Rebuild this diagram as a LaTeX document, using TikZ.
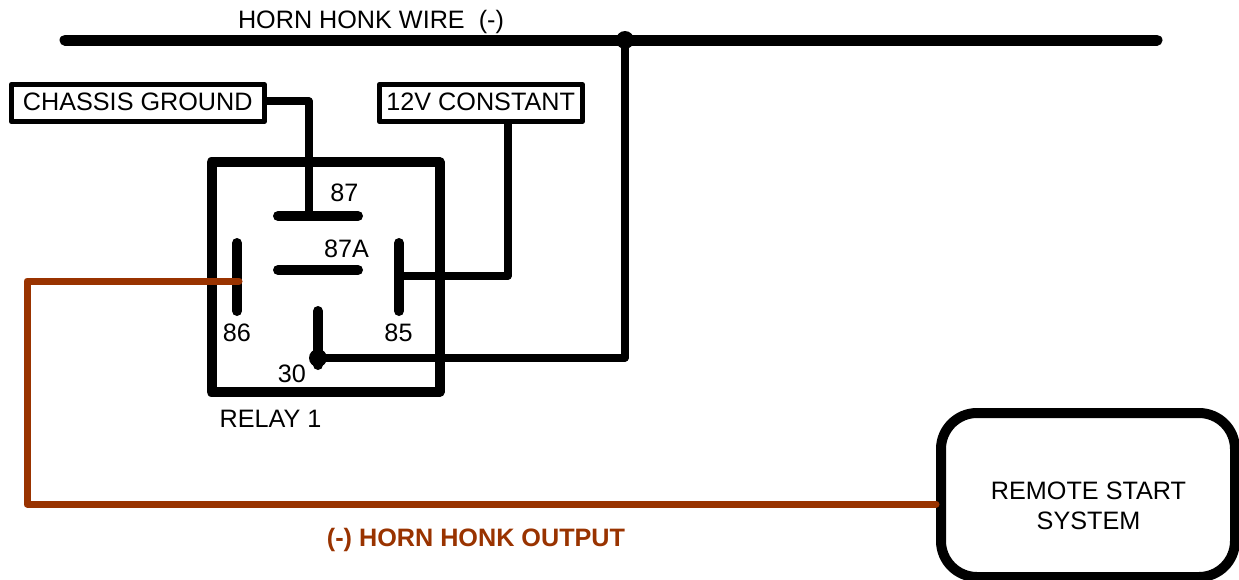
\documentclass[tikz,border=0pt]{standalone}
\usepackage{fontspec}
\setmainfont{Liberation Sans}
\definecolor{brownwire}{HTML}{993300}
\tikzset{
  px/.style={x=0.75pt,y=-0.75pt},
  lbl/.style={inner sep=0pt,font=\fontsize{18.9pt}{22pt}\selectfont,text=black},
  labelbox/.style={draw=black,line width=3.75pt,fill=white,line join=round,minimum height=27.75pt,inner sep=0pt,font=\fontsize{18.9pt}{22pt}\selectfont},
  wire/.style={draw=black,line width=5.4pt,line join=round},
  pin/.style={draw=black,line width=7.5pt,line cap=round},
  brownline/.style={draw=brownwire,line width=5.25pt,line join=round,line cap=round},
  dotnode/.style={circle,fill=black,inner sep=0pt,minimum size=13.5pt}
}
\begin{document}
\begin{tikzpicture}[px]
\useasboundingbox (0,0) rectangle (1239,579);
% named anchor points
\coordinate (hornL) at (65,40);
\coordinate (hornR) at (1157,40);
\coordinate (p87a) at (278,216);
\coordinate (p87b) at (358,216);
\coordinate (p87Aa) at (278,270);
\coordinate (p87Ab) at (358,270);
\coordinate (p86a) at (237,243);
\coordinate (p86b) at (237,311);
\coordinate (p85a) at (399,243);
\coordinate (p85b) at (399,311);
\coordinate (p30a) at (318,311);
\coordinate (p30b) at (318,365);
\coordinate (t87) at (309,216);
\coordinate (t85) at (399,276);
\coordinate (t86) at (239,281);
\coordinate (tGround) at (262,101);
\coordinate (t12) at (508,120);
% relay body
\draw[black,line width=7.5pt,line join=round] (211.5,162) rectangle (439.5,392);
\node[lbl] (relay) at (270.5,419) {RELAY 1};
% boxes
\node[labelbox,minimum width=189.75pt] (ground) at (137.75,103) {\raisebox{1.5pt}{CHASSIS GROUND}};
\node[labelbox,minimum width=152.25pt] (twelve) at (480.7,103) {\raisebox{1.5pt}{12V CONSTANT}};
\node[draw=black,line width=7.5pt,rounded corners=27pt,fill=white,minimum width=220.5pt,minimum height=123pt,inner sep=0pt] (remote) at (1088,495) {};
\node[lbl,align=center,font=\fontsize{18.9pt}{22.5pt}\selectfont] (remoteText) at (1088.5,505.5) {REMOTE START\\SYSTEM};
% main wires
\draw[wire,line width=8.25pt,line cap=round] (hornL) -- (hornR);
\node[dotnode] (junctionTop) at (625,40) {};
\node[dotnode] (junction30) at (318,358) {};
\draw[wire] (tGround) -- (309,101) -- (t87);
\draw[wire] (t12) -- (508,276) -- (t85);
\draw[wire] (junction30.center) -- (625,358) -- (junctionTop.center);
% pins
\draw[pin] (p87a) -- (p87b);
\draw[pin] (p87Aa) -- (p87Ab);
\draw[pin] (p86a) -- (p86b);
\draw[pin] (p85a) -- (p85b);
\draw[pin] (p30a) -- (p30b);
\draw[brownline] (t86) -- (27,281) -- (27,504) -- (remote.west |- 0,504);
% labels
\node[lbl] (horn) at (371,22) {HORN HONK WIRE\ \ (-)};
\node[lbl] (l87) at (344.5,192.5) {87};
\node[lbl] (l87A) at (346.5,249) {87A};
\node[lbl] (l86) at (237,333) {86};
\node[lbl] (l85) at (398.5,333) {85};
\node[lbl] (l30) at (292,373.5) {30};
\node[lbl,text=brownwire,font=\fontsize{18.9pt}{22pt}\selectfont\bfseries] (output) at (476,540) {(-) HORN HONK OUTPUT};
\end{tikzpicture}
\end{document}
